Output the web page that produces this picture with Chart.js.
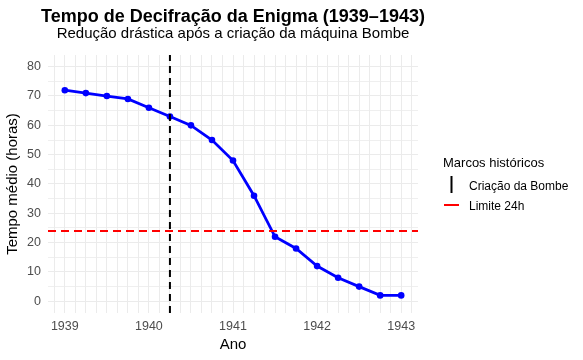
<!DOCTYPE html>
<html>
<head>
<meta charset="utf-8">
<script src="https://cdn.jsdelivr.net/npm/chart.js@4/dist/chart.umd.min.js"></script>
<style>
html,body{margin:0;padding:0;background:#ffffff;}
canvas{display:block;}
</style>
</head>
<body>
<canvas id="c" width="583" height="360"></canvas>
<script>
// ---- data ----
const anos = [1939, 1939.25, 1939.5, 1939.75, 1940, 1940.25, 1940.5, 1940.75,
              1941, 1941.25, 1941.5, 1941.75, 1942, 1942.25, 1942.5, 1942.75, 1943];
const tempoMedio = [72, 71, 70, 69, 66, 63, 60, 55, 48, 36, 22, 18, 12, 8, 5, 2, 2];
const anoBombe = 1940.25;
const limite24h = 24;
const xTickAnos = [1939, 1940, 1941, 1942, 1943];
const yTickValores = [0, 10, 20, 30, 40, 50, 60, 70, 80];

const titulo = 'Tempo de Decifração da Enigma (1939–1943)';
const subtitulo = 'Redução drástica após a criação da máquina Bombe';
const legendaTitulo = 'Marcos históricos';
const legendaItens = ['Criação da Bombe', 'Limite 24h'];

// ---- scale ranges ----
const xMin = 1938.8, xMax = 1943.2;
const yMin = -4, yMax = 84;

const FONT = "'Liberation Sans', Arial, sans-serif";

// grid positions (every 1/8 year, every 5 hours)
const xGrid = [];
for (let v = 1938.875; v <= 1943.125 + 1e-9; v += 0.125) xGrid.push(v);
const yGrid = [];
for (let v = 0; v <= 80; v += 5) yGrid.push(v);

const pontos = anos.map((a, i) => ({x: a, y: tempoMedio[i]}));

const overlay = {
  id: 'overlay',
  afterDraw(chart) {
    const ctx = chart.ctx;
    const ca = chart.chartArea;
    const cx = (ca.left + ca.right) / 2;
    ctx.save();
    ctx.fillStyle = '#000';
    ctx.textAlign = 'center';
    ctx.textBaseline = 'alphabetic';
    ctx.font = 'bold 18px ' + FONT;
    ctx.fillText(titulo, cx, 22);
    ctx.font = '15px ' + FONT;
    ctx.fillText(subtitulo, cx, 38);

    // legend
    ctx.textAlign = 'left';
    ctx.font = '13px ' + FONT;
    ctx.fillText(legendaTitulo, 443, 167);
    ctx.font = '12px ' + FONT;
    ctx.fillText(legendaItens[0], 469, 190);
    ctx.fillText(legendaItens[1], 469, 210);
    // glyphs
    ctx.strokeStyle = '#000';
    ctx.lineWidth = 2;
    ctx.beginPath();
    ctx.moveTo(451.5, 176);
    ctx.lineTo(451.5, 193);
    ctx.stroke();
    ctx.strokeStyle = '#FF0000';
    ctx.beginPath();
    ctx.moveTo(444, 205);
    ctx.lineTo(459, 205);
    ctx.stroke();
    ctx.restore();
  }
};

new Chart(document.getElementById('c'), {
  type: 'line',
  data: {
    datasets: [
      {
        label: legendaItens[0],
        data: [{x: anoBombe, y: yMin}, {x: anoBombe, y: yMax}],
        borderColor: '#000000',
        borderWidth: 2,
        borderDash: [7, 5],
        pointRadius: 0,
        fill: false,
        order: 1
      },
      {
        label: legendaItens[1],
        data: [{x: xMin, y: limite24h}, {x: xMax, y: limite24h}],
        borderColor: '#FF0000',
        borderWidth: 2,
        borderDash: [8, 5],
        pointRadius: 0,
        fill: false,
        order: 1
      },
      {
        label: 'Tempo médio',
        data: pontos,
        borderColor: '#0000FF',
        backgroundColor: '#0000FF',
        borderWidth: 2.8,
        pointRadius: 3.3,
        pointBackgroundColor: '#0000FF',
        pointBorderColor: '#0000FF',
        pointBorderWidth: 0,
        tension: 0,
        fill: false,
        order: 2
      }
    ]
  },
  options: {
    responsive: false,
    animation: false,
    layout: {padding: {left: 0, right: 165, top: 55, bottom: 0}},
    plugins: {
      legend: {display: false},
      tooltip: {enabled: false},
      title: {display: false}
    },
    scales: {
      x: {
        type: 'linear',
        min: xMin,
        max: xMax,
        afterBuildTicks: (s) => { s.ticks = xGrid.map(v => ({value: v})); },
        afterFit: (s) => { s.height = 47; },
        border: {display: false},
        grid: {color: '#EBEBEB', drawTicks: false, lineWidth: 1},
        ticks: {
          autoSkip: false, maxRotation: 0, minRotation: 0, padding: 6,
          color: '#4D4D4D', font: {family: FONT, size: 12.5},
          callback: (v) => xTickAnos.includes(v) ? String(v) : ''
        },
        title: {display: true, text: 'Ano', color: '#000', font: {family: FONT, size: 15}, padding: {top: 0, bottom: 6}}
      },
      y: {
        type: 'linear',
        min: yMin,
        max: yMax,
        afterBuildTicks: (s) => { s.ticks = yGrid.map(v => ({value: v})); },
        afterFit: (s) => { s.width = 48; },
        border: {display: false},
        grid: {color: '#EBEBEB', drawTicks: false, lineWidth: (c) => (c.tick && c.tick.value % 10 === 0) ? 1.1 : 0.8},
        ticks: {
          autoSkip: false, padding: 7,
          color: '#4D4D4D', font: {family: FONT, size: 12.5},
          callback: (v) => yTickValores.includes(v) ? String(v) : ''
        },
        title: {display: true, text: 'Tempo médio (horas)', color: '#000', font: {family: FONT, size: 15}, padding: {top: 4, bottom: 0}}
      }
    }
  },
  plugins: [overlay]
});
</script>
</body>
</html>
